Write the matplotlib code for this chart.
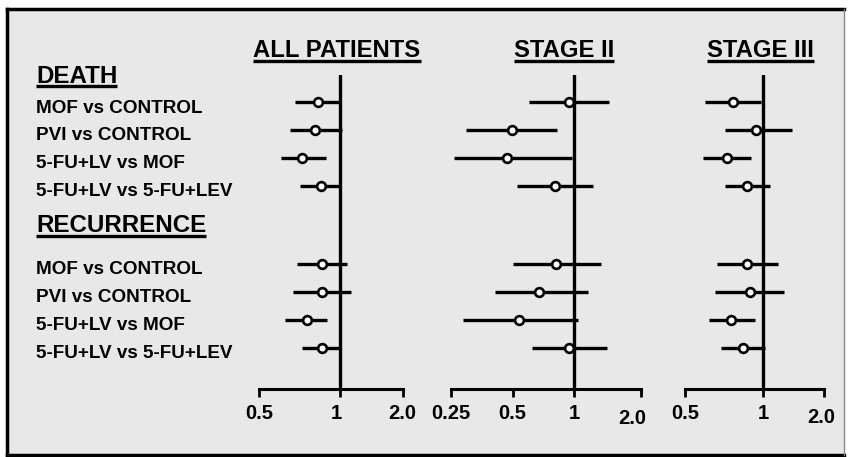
import numpy as np
import matplotlib
matplotlib.use('Agg')
from matplotlib import pyplot as plt
from matplotlib.lines import Line2D
from matplotlib.patches import Rectangle
from matplotlib.transforms import blended_transform_factory, ScaledTranslation

plt.rcParams['font.family'] = ['Liberation Sans', 'DejaVu Sans']
plt.rcParams['font.weight'] = 'bold'

comparisons = ['MOF vs CONTROL', 'PVI vs CONTROL',
               '5-FU+LV vs MOF', '5-FU+LV vs 5-FU+LEV']
groups = ['DEATH', 'RECURRENCE']
panel_titles = ['ALL PATIENTS', 'STAGE II', 'STAGE III']

# hazard ratio, lower and upper limit
all_death_hr = [0.83, 0.81, 0.72, 0.85]
all_death_lo = [0.68, 0.65, 0.605, 0.71]
all_death_hi = [1.0, 1.02, 0.89, 1.0]
all_rec_hr = [0.857, 0.855, 0.752, 0.855]
all_rec_lo = [0.694, 0.671, 0.626, 0.722]
all_rec_hi = [1.08, 1.125, 0.897, 1.0]

s2_death_hr = [0.943, 0.497, 0.471, 0.803]
s2_death_lo = [0.600, 0.296, 0.259, 0.525]
s2_death_hi = [1.44, 0.824, 0.97, 1.216]
s2_rec_hr = [0.815, 0.676, 0.539, 0.946]
s2_rec_lo = [0.50, 0.409, 0.286, 0.621]
s2_rec_hi = [1.32, 1.15, 1.036, 1.40]

s3_death_hr = [0.763, 0.94, 0.725, 0.868]
s3_death_lo = [0.598, 0.711, 0.586, 0.712]
s3_death_hi = [0.98, 1.38, 0.897, 1.083]
s3_rec_hr = [0.868, 0.886, 0.753, 0.833]
s3_rec_lo = [0.661, 0.654, 0.620, 0.690]
s3_rec_hi = [1.186, 1.27, 0.926, 1.02]

all_ticks = [0.5, 1, 2.0]
all_tick_labels = ['0.5', '1', '2.0']
s2_ticks = [0.25, 0.5, 1, 2.0]
s2_tick_labels = ['0.25', '0.5', '1', '2.0']
s3_ticks = [0.5, 1, 2.0]
s3_tick_labels = ['0.5', '1', '2.0']

W, H = 848, 457
BG = '#e8e8e8'


def piecewise_log(left, right):
    # the printed axes are log, but the half below 1 is drawn wider
    def fwd(x):
        l = np.log2(np.clip(np.asarray(x, float), 1e-9, None))
        return np.where(l < 0, l * left, l * right)

    def inv(y):
        y = np.asarray(y, float)
        return np.where(y < 0, 2 ** (y / left), 2 ** (y / right))
    return fwd, inv


def frac(x0, y0, x1, y1):
    # image pixels (top-left origin) -> figure fraction rect
    return [x0 / W, 1 - y1 / H, (x1 - x0) / W, (y1 - y0) / H]


def underline(fig, text, y_img, lw=2.2):
    bb = text.get_window_extent()
    x0, x1 = bb.x0 / W, bb.x1 / W
    y = 1 - y_img / H
    fig.add_artist(Line2D([x0, x1], [y, y], transform=fig.transFigure,
                          color='black', lw=lw, solid_capstyle='butt', zorder=5))


def main():
    fig = plt.figure(figsize=(W / 100, H / 100), dpi=100)
    fig.patch.set_facecolor('white')
    fig.add_artist(Rectangle((7 / W, 2 / H), 837 / W, 446 / H, transform=fig.transFigure,
                             facecolor=BG, edgecolor='none', zorder=-2))
    for xs, ys, c, lw in [([7, 7], [2, 448], 'black', 2.5),
                          ([7, 844], [448, 448], 'black', 2.5),
                          ([7, 844], [2, 2], 'black', 2.5),
                          ([844, 844], [2, 448], '#888888', 1.0)]:
        fig.add_artist(Line2D(np.array(xs) / W, np.array(ys) / H, transform=fig.transFigure,
                              color=c, lw=lw, zorder=-1))

    death_rows = np.arange(4)
    rec_rows = np.arange(4) + 5.82
    ylim = (10.31, -0.98)

    # (dx, dy) in pixels for hand-placed tick labels in the original
    nudges = [{1: (-4, 0)}, {3: (-8, -5)}, {2: (-3, -4)}]

    panels = [
        ((259, 402.7), (81, 63), (0.5, 2.0), all_ticks, all_tick_labels,
         [(all_death_hr, all_death_lo, all_death_hi), (all_rec_hr, all_rec_lo, all_rec_hi)]),
        ((450.7, 640.7), (62, 66.4), (0.25, 2.0), s2_ticks, s2_tick_labels,
         [(s2_death_hr, s2_death_lo, s2_death_hi), (s2_rec_hr, s2_rec_lo, s2_rec_hi)]),
        ((685, 824.3), (78.3, 61), (0.5, 2.0), s3_ticks, s3_tick_labels,
         [(s3_death_hr, s3_death_lo, s3_death_hi), (s3_rec_hr, s3_rec_lo, s3_rec_hi)]),
    ]

    axes = []
    for i, ((x0, x1), (left, right), xlim, ticks, labels, data) in enumerate(panels):
        ax = fig.add_axes(frac(x0, 75, x1, 389))
        ax.patch.set_alpha(0)
        ax.set_xscale('function', functions=piecewise_log(left, right))
        ax.set_xlim(xlim)
        ax.set_ylim(ylim)
        ax.axvline(1, color='black', lw=2.4, zorder=1)
        for rows, (hr, lo, hi) in zip([death_rows, rec_rows], data):
            ax.hlines(rows, lo, hi, color='black', lw=2.4, zorder=2)
            ax.plot(hr, rows, 'o', ms=6.3, mfc='white', mec='black', mew=1.9, zorder=3)
        for side in ['left', 'right', 'top']:
            ax.spines[side].set_visible(False)
        ax.spines['bottom'].set_linewidth(2.2)
        ax.set_yticks([])
        ax.set_xticks(ticks, labels)
        ax.xaxis.set_minor_locator(matplotlib.ticker.NullLocator())
        ax.tick_params(axis='x', direction='out', length=6, width=2.0, pad=5,
                       labelsize=14.5)
        for k, tick in enumerate(ax.xaxis.get_major_ticks()):
            tick.label1.set_fontweight('bold')
            if k in nudges[i]:
                dx, dy = nudges[i][k]
                tick.label1.set_transform(tick.label1.get_transform() +
                                          ScaledTranslation(dx / 100, dy / 100, fig.dpi_scale_trans))
        axes.append(ax)

    ax1 = axes[0]
    trans = blended_transform_factory(fig.transFigure, ax1.transData)
    header_y = [-0.68, 4.65]
    header_line = [85.5, 236.3]
    headers = []
    for g, hy, rows in zip(groups, header_y, [death_rows, rec_rows]):
        headers.append(ax1.text(36 / W, hy, g, transform=trans, fontsize=17.4,
                                fontweight='bold', va='baseline', ha='left', clip_on=False))
        for r, name in zip(rows, comparisons):
            ax1.text(36 / W, r + 0.37, name, transform=trans, fontsize=13.6,
                     fontweight='bold', va='baseline', ha='left', clip_on=False)

    titles = []
    for name, cx in zip(panel_titles, [337, 564, 760.5]):
        titles.append(fig.text(cx / W, 1 - 57 / H, name, fontsize=17.2, fontweight='bold',
                               ha='center', va='baseline'))

    fig.canvas.draw()
    for t in titles:
        underline(fig, t, 60.5, lw=2.4)
    for t, y in zip(headers, header_line):
        underline(fig, t, y, lw=2.4)

    fig.savefig('out.png', dpi=100, facecolor=fig.get_facecolor())


if __name__ == '__main__':
    main()
